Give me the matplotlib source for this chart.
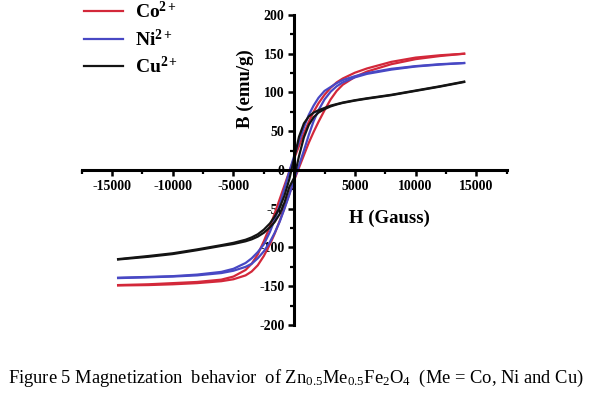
import matplotlib
matplotlib.use("Agg")
import matplotlib.pyplot as plt
from matplotlib.ticker import MultipleLocator, FixedLocator, FixedFormatter

# --- font setup: Times-like bold labels ---
plt.rcParams['font.family'] = ['Liberation Serif', 'DejaVu Serif']
plt.rcParams['mathtext.fontset'] = 'custom'
plt.rcParams['mathtext.rm'] = 'Liberation Serif'
plt.rcParams['mathtext.bf'] = 'Liberation Serif:bold'
plt.rcParams['mathtext.it'] = 'Liberation Serif:italic'
plt.rcParams['axes.unicode_minus'] = False

# --- data ---
# field grid (Gauss), shared by both branches of every loop
H = [-14500, -12000, -10000, -8000, -6000, -5000, -4000, -3500, -3000, -2500,
     -2000, -1600, -1200, -800, -400, 0, 400, 800, 1200, 1600, 2000, 2500,
     3000, 3500, 4000, 5000, 6000, 8000, 10000, 12000, 14000]

# Co2+ : descending (upper) and ascending (lower) branches
co_upper = [-148.5, -147.5, -146, -144.5, -141.5, -137.5, -129, -121, -109, -92,
            -73, -56, -38, -20, -2, 15, 31, 47, 62, 75, 86, 97,
            106, 113, 118, 125.5, 131, 139.5, 145, 148, 150]
co_lower = [-149, -148.5, -147.5, -146, -143.5, -141, -136, -131, -123, -111,
            -96, -82, -66, -49, -31, -13, 3, 19, 35, 49, 62, 77,
            91, 102, 110, 120, 127, 136.5, 143, 147, 150]

# Ni2+
ni_upper = [-139, -138, -137, -135, -131.5, -127.5, -120, -114, -106, -96,
            -80, -64, -46, -24, -2, 18, 37, 55, 71, 83, 93, 102,
            107, 112, 116, 121, 125, 130.5, 134, 136.5, 138]
ni_lower = [-139.5, -138.5, -137.5, -136, -133, -130, -125, -121, -114, -105,
            -93, -81, -67, -50, -32, -12, 6, 25, 45, 63, 77, 91,
            101, 108, 113, 119.5, 124, 129.5, 133.5, 136, 138]

# Cu2+
cu_upper = [-115, -111, -107.5, -102.5, -97, -94, -90, -87, -83, -77,
            -69, -60, -49, -33, -12, 15, 43, 60, 69, 74, 77, 80,
            83, 85, 87, 90, 92.5, 97, 102.5, 108, 114]
cu_lower = [-115.5, -112, -108.5, -103.5, -98, -95.5, -92, -89.5, -86, -81,
            -74, -67, -57, -42, -22, -10, 18, 42, 58, 68, 74, 78.5,
            82, 84.5, 86.5, 89.5, 92, 96.5, 102, 107.5, 113.5]

series = [
    (r'Co$^{\mathbf{2+}}$', co_upper, co_lower, '#d3283a'),
    (r'Ni$^{\mathbf{2+}}$', ni_upper, ni_lower, '#4848c4'),
    (r'Cu$^{\mathbf{2+}}$', cu_upper, cu_lower, '#141414'),
]

fig = plt.figure(figsize=(5.91, 3.97), dpi=100)
ax = fig.add_axes([0.1382, 0.1814, 0.7191, 0.7809])

for label, up, low, col in series:
    ax.plot(H, up, color=col, lw=1.6, label=label)
    ax.plot(H, low, color=col, lw=1.6)

ax.set_xlim(-17500, 17500)
ax.set_ylim(-200, 200)

# axes crossing at the origin
ax.spines['left'].set_position(('data', 0))
ax.spines['bottom'].set_position(('data', 0))
ax.spines['top'].set_visible(False)
ax.spines['right'].set_visible(False)
for s in ('left', 'bottom'):
    ax.spines[s].set_linewidth(2.2)

xt = [-15000, -10000, -5000, 0, 5000, 10000, 15000]
ax.xaxis.set_major_locator(FixedLocator(xt))
ax.xaxis.set_major_formatter(FixedFormatter([str(v) if v != 0 else '' for v in xt]))
ax.xaxis.set_minor_locator(MultipleLocator(2500))
ax.yaxis.set_major_locator(MultipleLocator(50))
ax.yaxis.set_minor_locator(MultipleLocator(25))

ax.tick_params(which='major', direction='out', length=4, width=1.8,
               labelsize=10, pad=3)
ax.tick_params(which='minor', direction='out', length=3, width=1.6)
for t in ax.get_xticklabels() + ax.get_yticklabels():
    t.set_fontweight('bold')

ax.set_xlabel('H (Gauss)', fontsize=13.5, fontweight='bold')
ax.xaxis.set_label_coords(0.725, 0.371)
ax.set_ylabel('B (emu/g)', fontsize=13.5, fontweight='bold')
ax.yaxis.set_label_coords(0.405, 0.761)

ax.legend(loc='upper left', bbox_to_anchor=(0.142, 0.998),
          bbox_transform=fig.transFigure, frameon=False,
          prop={'family': 'Liberation Serif', 'weight': 'bold', 'size': 14},
          handlelength=2.0, handletextpad=0.65, labelspacing=0.33,
          borderpad=0, borderaxespad=0)

fig.text(0.5, 0.048,
         'Figure 5 Magnetization  behavior  of Zn$_{0.5}$Me$_{0.5}$Fe$_2$O$_4$  (Me = Co, Ni and Cu)',
         ha='center', va='center', fontsize=13.3)

fig.savefig('out.png', dpi=100)
